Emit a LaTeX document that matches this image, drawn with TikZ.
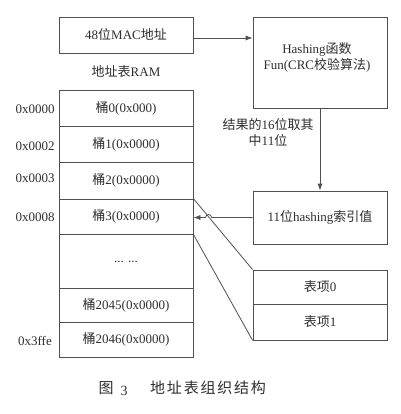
\documentclass[tikz,border=0pt]{standalone}
\usepackage{fontspec}
\setmainfont{Liberation Serif}
\newfontfamily\cjk{Noto Sans CJK SC}
\newfontfamily\cjkcap[LetterSpace=12]{Noto Sans CJK SC}
\usetikzlibrary{arrows.meta}
\definecolor{lc}{HTML}{505050}
\definecolor{tc}{HTML}{2E2E2E}
\newcommand\zh[1]{{\cjk #1}}
\begin{document}
\begin{tikzpicture}[x=1pt,y=-1pt,
 box/.style={draw=lc, line width=0.8pt, minimum width=134pt, inner sep=0pt, text=tc, font=\fontsize{13}{15}\selectfont},
 lbl/.style={text=tc, font=\fontsize{13}{16}\selectfont, inner sep=0pt},
 addr/.style={text=tc, font=\fontsize{13}{15}\selectfont, inner sep=0pt},
 conn/.style={draw=lc, line width=0.8pt},
 arr/.style={conn, -{Latex[length=7pt,width=5pt]}}]
\useasboundingbox (0,0) rectangle (400,414);
\fill[white] (0,0) rectangle (400,414);
% top boxes
\node[box, minimum height=36pt] (mac) at (126,35) {48\zh{位}MAC\zh{地址}};
\node[box, minimum height=91pt] (hash) at (320,62.5) {};
\node[lbl, align=center] (hashtxt) at (317,57.5) {Hashing\zh{函数}\\Fun(CRC\zh{校验算法})};
\node[lbl] (ramlbl) at (126,72) {\zh{地址表}RAM};
% RAM rows
\node[box, minimum height=36pt] (r0) at (126,108) {\zh{桶}0(0x000)};
\node[box, minimum height=36pt] (r1) at (126,144) {\zh{桶}1(0x0000)};
\node[box, minimum height=37pt] (r2) at (126,180.5) {\zh{桶}2(0x0000)};
\node[box, minimum height=35pt] (r3) at (126,216.5) {\zh{桶}3(0x0000)};
\node[box, minimum height=54pt] (rd) at (126,261) {\raisebox{-3pt}{... ...}};
\node[box, minimum height=34pt] (r2045) at (126,305) {\zh{桶}2045(0x0000)};
\node[box, minimum height=35pt] (r2046) at (126,339.5) {\zh{桶}2046(0x0000)};
% addresses
\node[addr] (a0) at (35,109) {0x0000};
\node[addr] (a1) at (35,146) {0x0002};
\node[addr] (a2) at (35,178) {0x0003};
\node[addr] (a3) at (35,217) {0x0008};
\node[addr] (a4) at (35,341) {0x3ffe};
% right side
\node[lbl, align=center] (res) at (268,133) {\zh{结果的}16\zh{位取其}\\\zh{中}11\zh{位}};
\node[box, minimum height=53pt] (idx) at (320,217.5) {11\zh{位}hashing\zh{索引值}};
\node[box, minimum height=34pt] (t0) at (320,287) {\zh{表项}0};
\node[box, minimum height=36pt] (t1) at (320,322) {\zh{表项}1};
% connectors
\draw[arr] ([yshift=-3pt]mac.east) -- ([yshift=-3pt]mac.east -| hash.west);
\draw[arr] (hash.south) -- (idx.north);
\draw[conn] (r3.north east) -- (t0.north west);
\draw[conn] (r3.south east) -- (t1.south west);
\draw[arr] (idx.west) -- (211.6,217.5) arc[start angle=0,end angle=180,radius=3pt] -- (r3.east |- idx.west);
% caption
\node[text=tc, font=\fontsize{15}{18}\selectfont, inner sep=0pt] (capfig) at (106,388) {\zh{图}};
\node[text=tc, font=\fontsize{14}{16}\selectfont, inner sep=0pt] (capnum) at (124,391) {3};
\node[text=tc, font=\fontsize{15}{18}\selectfont, inner sep=0pt, anchor=west] (captxt) at (150,388) {\cjkcap 地址表组织结构};
\end{tikzpicture}
\end{document}
